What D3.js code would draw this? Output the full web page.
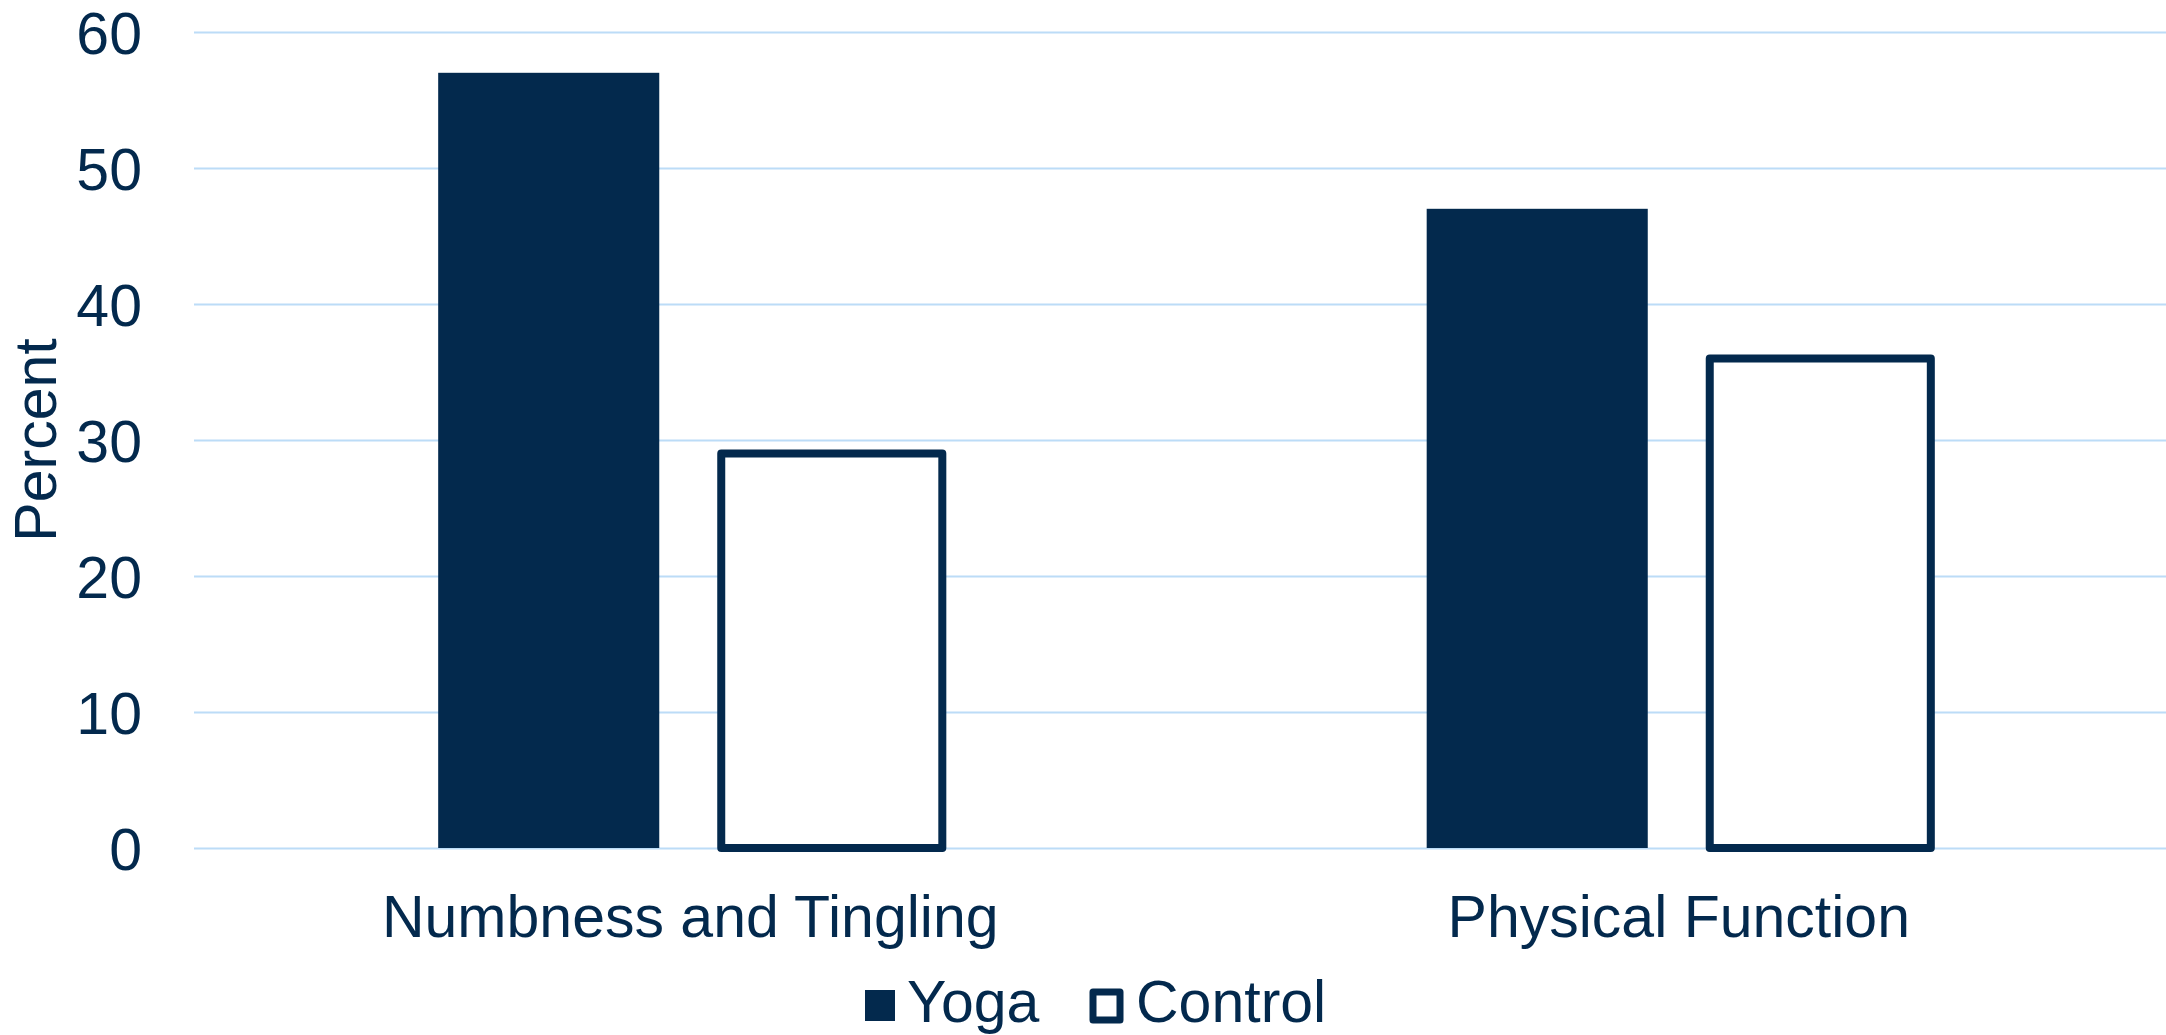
<!DOCTYPE html>
<html>
<head>
<meta charset="utf-8">
<script src="https://cdn.jsdelivr.net/npm/d3@7"></script>
<style>
  body { margin: 0; background: #fff; }
  svg { display: block; font-family: "Liberation Sans", Arial, sans-serif; }
</style>
</head>
<body>
<div class="container"></div>
<script>
// chart data
const categories = ["Numbness and Tingling", "Physical Function"];
const groups = ["Yoga", "Control"];
const yogaValues = [57, 47];
const controlValues = [29, 36];
const yTicks = [0, 10, 20, 30, 40, 50, 60];

const navy = "#03294d";
const gridBlue = "#bcdcf7";

const width = 2166;
const height = 1035;
const margin = { top: 32, right: -7, bottom: 187, left: 196 };
const plotW = width - margin.left - margin.right;
const plotH = height - margin.top - margin.bottom;

const svg = d3.select(".container")
  .append("svg")
  .attr("width", width)
  .attr("height", height);

const g = svg.append("g")
  .attr("transform", `translate(${margin.left},${margin.top})`);

// scales
const x0 = d3.scaleBand()
  .domain(categories)
  .range([0, plotW])
  .paddingInner(0.49)
  .paddingOuter(0.245);

const x1 = d3.scaleBand()
  .domain(groups)
  .range([0, x0.bandwidth()])
  .paddingInner(0.219);

const y = d3.scaleLinear()
  .domain([0, 60])
  .range([plotH, 0]);

// gridlines + y tick labels
const yAxis = g.append("g")
  .call(d3.axisLeft(y).tickValues(yTicks).tickSize(-plotW).tickPadding(54));
yAxis.select(".domain").remove();
yAxis.selectAll(".tick line")
  .attr("x1", -2)
  .attr("stroke", gridBlue)
  .attr("stroke-width", 2);
yAxis.selectAll(".tick text")
  .attr("fill", navy)
  .attr("font-size", 59)
  .attr("font-family", "Liberation Sans, Arial, sans-serif")
  .attr("dy", "0.36em");

// y axis title
svg.append("text")
  .attr("transform", `translate(56,${margin.top + plotH / 2}) rotate(-90)`)
  .attr("text-anchor", "middle")
  .attr("fill", navy)
  .attr("font-size", 59)
  .text("Percent");

// bars
const rows = categories.map((c, i) => ({ cat: c, Yoga: yogaValues[i], Control: controlValues[i] }));

const grp = g.selectAll(".grp")
  .data(rows)
  .enter()
  .append("g")
  .attr("class", "grp")
  .attr("transform", d => `translate(${x0(d.cat)},0)`);

grp.append("rect")
  .attr("x", x1("Yoga"))
  .attr("y", d => y(d.Yoga))
  .attr("width", x1.bandwidth())
  .attr("height", d => y(0) - y(d.Yoga))
  .attr("fill", navy);

grp.append("rect")
  .attr("x", x1("Control"))
  .attr("y", d => y(d.Control))
  .attr("width", x1.bandwidth())
  .attr("height", d => y(0) - y(d.Control))
  .attr("fill", "#fff")
  .attr("stroke", navy)
  .attr("stroke-width", 8)
  .attr("stroke-linejoin", "round");

// category labels
const xAxis = g.append("g")
  .attr("transform", `translate(0,${plotH})`)
  .call(d3.axisBottom(x0).tickSize(0));
xAxis.select(".domain").remove();
xAxis.selectAll(".tick text")
  .attr("fill", navy)
  .attr("font-size", 59)
  .attr("font-family", "Liberation Sans, Arial, sans-serif")
  .attr("dy", 0)
  .attr("y", 89);

// legend
const legend = svg.append("g").attr("transform", "translate(865,990)");
legend.append("rect")
  .attr("x", 0).attr("y", 0)
  .attr("width", 30).attr("height", 31)
  .attr("fill", navy);
legend.append("text")
  .attr("x", 42).attr("y", 32)
  .attr("fill", navy)
  .attr("font-size", 59)
  .text(groups[0]);
legend.append("rect")
  .attr("x", 228).attr("y", 2)
  .attr("width", 27).attr("height", 28)
  .attr("fill", "#fff")
  .attr("stroke", navy)
  .attr("stroke-width", 7)
  .attr("stroke-linejoin", "round");
legend.append("text")
  .attr("x", 271).attr("y", 32)
  .attr("fill", navy)
  .attr("font-size", 59)
  .text(groups[1]);
</script>
</body>
</html>
